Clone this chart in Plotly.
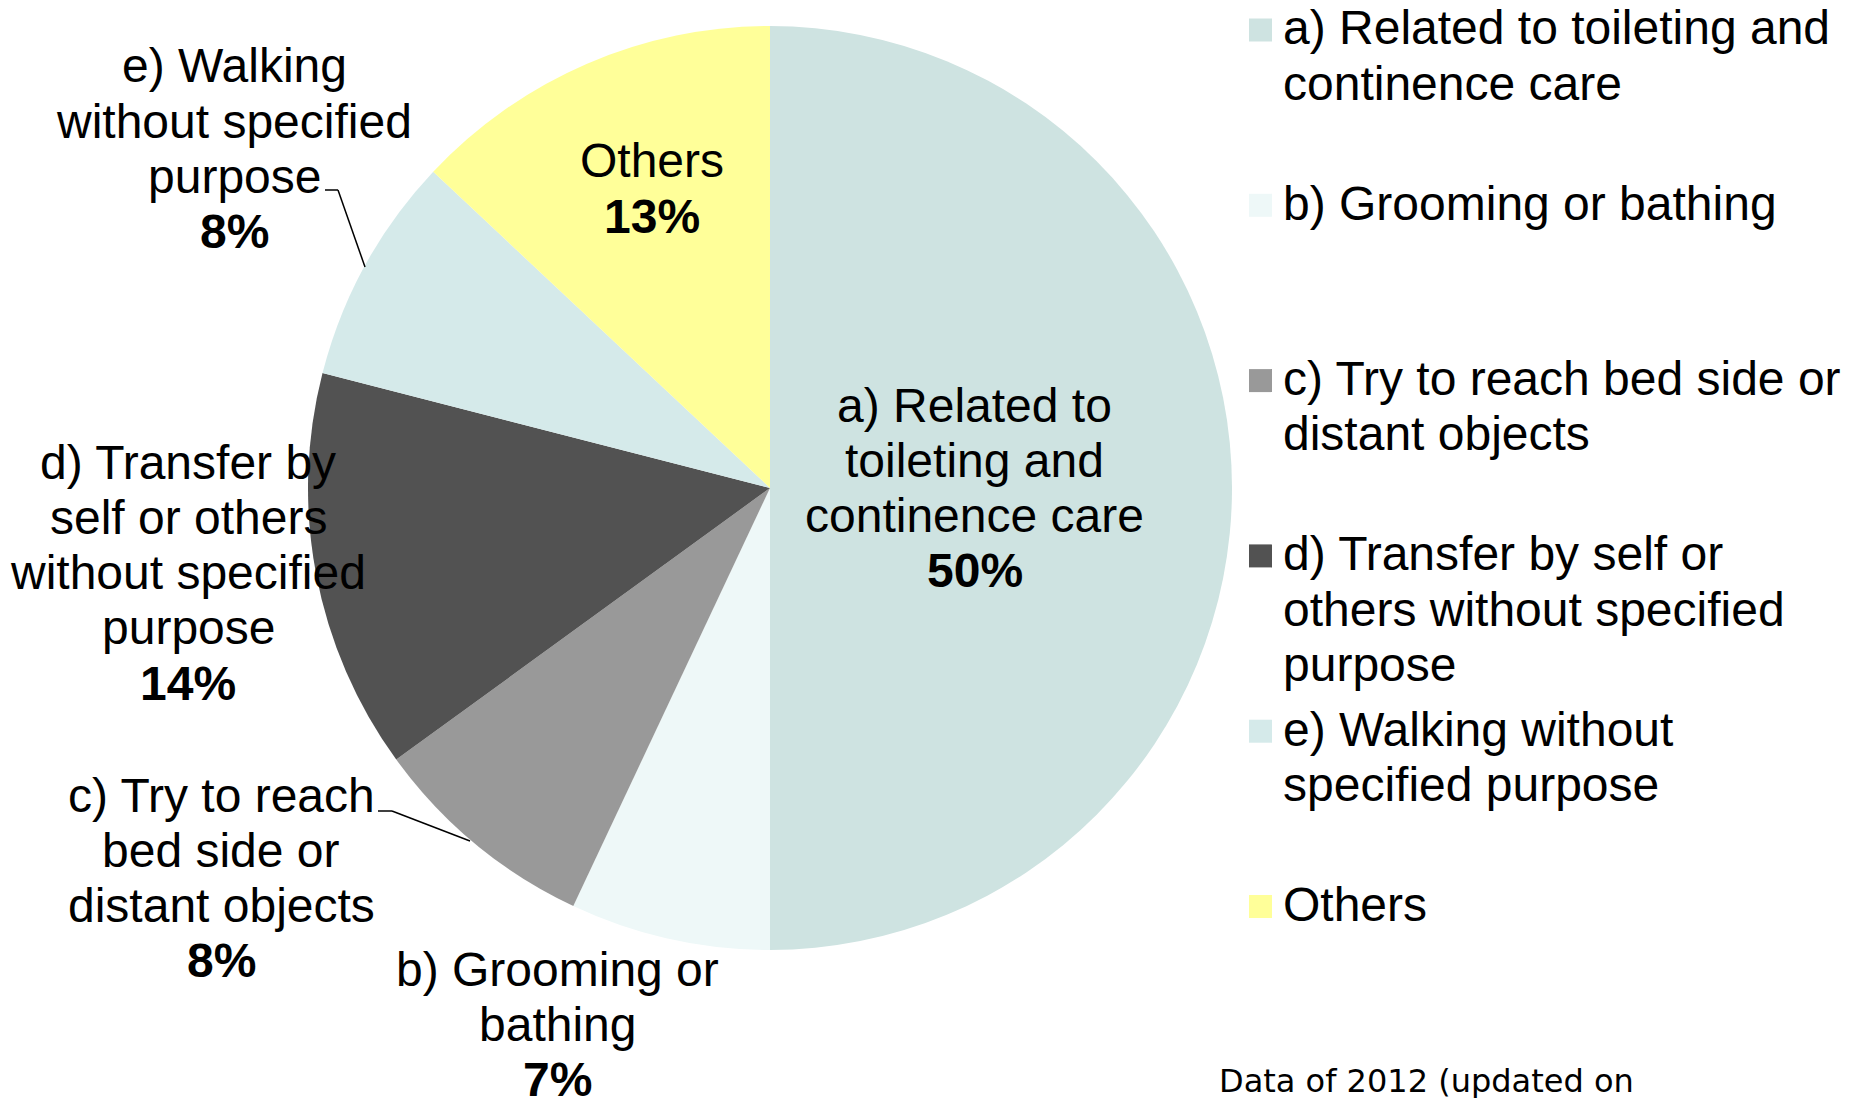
import plotly.graph_objects as go

# Causes of falls (share of incidents, %)
categories = [
    "a) Related to toileting and continence care",
    "b) Grooming or bathing",
    "c) Try to reach bed side or distant objects",
    "d) Transfer by self or others without specified purpose",
    "e) Walking without specified purpose",
    "Others",
]
shares = [50, 7, 8, 14, 8, 13]
colors = ["#CEE3E1", "#EEF8F8", "#999999", "#525252", "#D5EAEA", "#FFFF99"]

# Wrapped label text drawn next to each slice
slice_label_lines = [
    ["a) Related to", "toileting and", "continence care"],
    ["b) Grooming or", "bathing"],
    ["c) Try to reach", "bed side or", "distant objects"],
    ["d) Transfer by", "self or others", "without specified", "purpose"],
    ["e) Walking", "without specified", "purpose"],
    ["Others"],
]
# Wrapped text for the legend on the right
legend_lines = [
    ["a) Related to toileting and", "continence care"],
    ["b) Grooming or bathing"],
    ["c) Try to reach bed side or", "distant objects"],
    ["d) Transfer by self or", "others without specified", "purpose"],
    ["e) Walking without", "specified purpose"],
    ["Others"],
]
footnote = "Data of 2012 (updated on"

W, H = 1852, 1098
FONT = "Arial, Liberation Sans, sans-serif"
FS = 48
LINE = 55.3  # pixel distance between wrapped lines


def px(x):
    return x / W


def py(y):
    return 1 - y / H


fig = go.Figure(
    go.Pie(
        labels=categories,
        values=shares,
        sort=False,
        direction="clockwise",
        rotation=0,
        marker=dict(colors=colors, line=dict(width=0)),
        textinfo="none",
        hoverinfo="label+percent",
        showlegend=False,
        domain=dict(x=[px(770 - 462), px(770 + 462)], y=[py(950), py(26)]),
    )
)

annotations = []


def add_line(text, x, y, xanchor):
    annotations.append(dict(
        x=px(x), y=py(y), xref="paper", yref="paper", text=text,
        showarrow=False, xanchor=xanchor, yanchor="middle", align=xanchor,
        font=dict(family=FONT, size=FS, color="black"),
    ))


# slice labels: (centre x, y of first line) in pixels
label_pos = [(975, 405), (557, 969), (221, 795), (188, 462), (234, 66), (652, 161)]
for lines, val, (x, y0) in zip(slice_label_lines, shares, label_pos):
    rows = lines + [f"<b>{val}%</b>"]
    for k, row in enumerate(rows):
        add_line(row, x, y0 + k * LINE, "center")

# leader lines for the outside labels
leaders = [
    [(325, 190), (338, 190), (365, 267)],
    [(378, 811), (392, 811), (470, 841)],
]
shapes = []
for pts in leaders:
    for (x0, y0), (x1, y1) in zip(pts[:-1], pts[1:]):
        shapes.append(dict(
            type="line", xref="paper", yref="paper",
            x0=px(x0), y0=py(y0), x1=px(x1), y1=py(y1),
            line=dict(color="black", width=1.5),
        ))

# hand-laid legend: square swatch + wrapped text, evenly spaced rows
first_row = 28
row_step = 175.3
sq = 23
for i, (lines, col) in enumerate(zip(legend_lines, colors)):
    yc = first_row + i * row_step
    shapes.append(dict(
        type="rect", xref="paper", yref="paper",
        x0=px(1249), x1=px(1249 + sq), y0=py(yc + 2 - sq / 2), y1=py(yc + 2 + sq / 2),
        fillcolor=col, line=dict(width=0),
    ))
    for k, row in enumerate(lines):
        add_line(row, 1281, yc + k * LINE, "left")

annotations.append(dict(
    x=px(1217), y=py(1081), xref="paper", yref="paper", text=footnote,
    showarrow=False, xanchor="left", yanchor="middle",
    font=dict(family="DejaVu Sans, Verdana, sans-serif", size=32, color="black"),
))

fig.update_layout(
    width=W, height=H,
    margin=dict(l=0, r=0, t=0, b=0),
    paper_bgcolor="white", plot_bgcolor="white",
    annotations=annotations, shapes=shapes,
    showlegend=False,
)

fig.write_html("out.html")
